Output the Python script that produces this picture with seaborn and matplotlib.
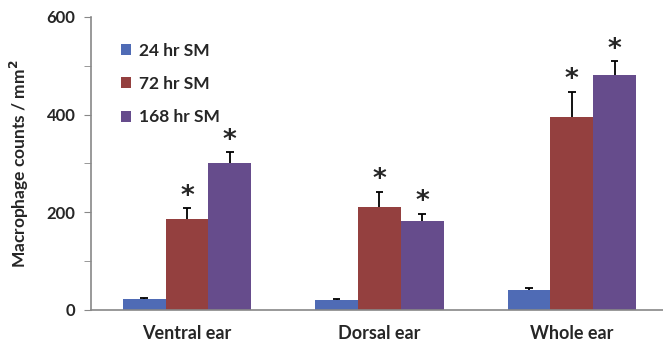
import matplotlib
matplotlib.use("Agg")
import matplotlib.pyplot as plt
from matplotlib.patches import Patch
from matplotlib.ticker import MultipleLocator
import seaborn as sns
import numpy as np
import pandas as pd

# values
regions = ["Ventral ear", "Dorsal ear", "Whole ear"]
series = ["24 hr SM", "72 hr SM", "168 hr SM"]
means_24 = [22, 20, 40]
means_72 = [186, 210, 394]
means_168 = [300, 182, 480]
err_24 = [1.5, 2.5, 4]
err_72 = [22, 32, 53]
err_168 = [23, 15, 29]
signif_24 = [False, False, False]
signif_72 = [True, True, True]
signif_168 = [True, True, True]

colors = ["#4F6BB5", "#94403F", "#664C8C"]

df = pd.DataFrame({
    "region": regions * 3,
    "series": [s for s in series for _ in regions],
    "count": means_24 + means_72 + means_168,
})
errs = err_24 + err_72 + err_168
sigs = signif_24 + signif_72 + signif_168

sns.set_style("white")
plt.rcParams["font.family"] = ["Lato", "DejaVu Sans"]
plt.rcParams["font.weight"] = "bold"

fig = plt.figure(figsize=(6.63, 3.44), dpi=100)
ax = fig.add_axes([0.137, 0.099, 0.863, 0.852])

sns.barplot(data=df, x="region", y="count", hue="series", order=regions,
            hue_order=series, palette=colors, width=0.667, gap=0,
            errorbar=None, saturation=1, linewidth=0, ax=ax, legend=False)

bars = [p for p in ax.patches][:len(df)]
xs = np.array([b.get_x() + b.get_width() / 2 for b in bars])
hs = np.array([b.get_height() for b in bars])
tops = hs + np.array(errs)
# upper-only error bars with a cap
ax.vlines(xs, hs, tops, color="black", linewidth=1.3)
ax.hlines(tops, xs - 0.02, xs + 0.02, color="black", linewidth=1.3)
for x, t, s in zip(xs, tops, sigs):
    if s:
        ax.annotate("*", (x, t), xytext=(0, -1), textcoords="offset points",
                    ha="center", va="bottom", fontsize=19, fontweight="bold",
                    family="DejaVu Sans")

ax.set_ylim(0, 600)
ax.set_xlim(-0.5, 2.474)
ax.yaxis.set_major_locator(MultipleLocator(200))
ax.yaxis.set_minor_locator(MultipleLocator(100))
ax.set_xticks([0.5, 1.5], minor=True)
ax.set_xticks([0, 1, 2])
ax.set_xticklabels(regions)
ax.tick_params(axis="x", which="major", length=0, pad=11, labelsize=13)
ax.tick_params(axis="x", which="minor", length=5, color="#888888", direction="out")
ax.tick_params(axis="y", which="both", length=5, color="#888888", direction="out",
               left=True, labelsize=12)
ax.tick_params(axis="y", which="major", pad=6)

for side in ["top", "right"]:
    ax.spines[side].set_visible(False)
for side in ["left", "bottom"]:
    ax.spines[side].set_color("#888888")
    ax.spines[side].set_linewidth(1.2)

ax.set_xlabel("")
ax.set_ylabel("Macrophage counts / mm$^{2}$", fontsize=12.5, fontweight="bold",
              labelpad=11)

handles = [Patch(facecolor=c, edgecolor="none") for c in colors]
ax.legend(handles, series, loc="upper left", bbox_to_anchor=(0.025, 0.965),
          frameon=False, fontsize=12.5, handlelength=0.6, handleheight=0.6,
          handletextpad=0.45, labelspacing=1.0)

fig.savefig("out.png", dpi=100)
